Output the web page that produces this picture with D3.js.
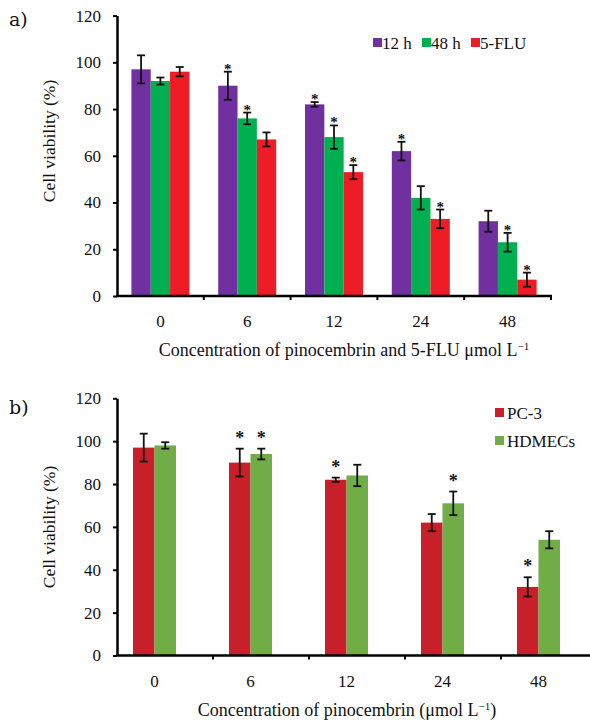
<!DOCTYPE html>
<html>
<head>
<meta charset="utf-8">
<script src="https://cdn.jsdelivr.net/npm/d3@7"></script>
<style>
  body { margin: 0; background: #fff; }
  svg text { font-family: "Liberation Serif", "Times New Roman", serif; fill: #111; }
</style>
</head>
<body>
<div id="chart"></div>
<script>
const width = 590;
const height = 723;

// panel a
const concA = ['0', '6', '12', '24', '48'];
const seriesA = ['12 h', '48 h', '5-FLU'];
const valA12 = [97, 90, 82, 62, 32];
const errA12 = [6, 6, 1, 4, 4.5];
const valA48 = [92, 76, 68, 42, 23];
const errA48 = [1.5, 2.5, 5, 5, 4];
const valAFlu = [96, 67, 53, 33, 7];
const errAFlu = [2, 3, 3, 4, 3];
const starA12 = [false, true, true, true, false];
const starA48 = [false, true, true, false, true];
const starAFlu = [false, false, true, true, true];

// panel b
const concB = ['0', '6', '12', '24', '48'];
const seriesB = ['PC-3', 'HDMECs'];
const valBPc3 = [97, 90, 82, 62, 32];
const errBPc3 = [6.5, 6.5, 1, 4, 4.5];
const valBHd = [98, 94, 84, 71, 54];
const errBHd = [1.5, 2.5, 5, 5.5, 4];
const starBPc3 = [false, true, true, false, true];
const starBHd = [false, true, false, true, false];

const yTicks = [0, 20, 40, 60, 80, 100, 120];

const svg = d3.select('#chart').append('svg')
    .attr('width', width)
    .attr('height', height);

function drawPanel(cfg) {
    const g = svg.append('g');

    const x = d3.scaleBand()
        .domain(cfg.cats)
        .range([cfg.left, cfg.right])
        .paddingInner(cfg.pad)
        .paddingOuter(cfg.pad / 2);

    const xSub = d3.scaleBand()
        .domain(cfg.series.map(s => s.name))
        .range([0, x.bandwidth()]);

    const y = d3.scaleLinear()
        .domain([0, 120])
        .range([cfg.bottom, cfg.top]);

    // bars
    cfg.series.forEach(s => {
        const rows = cfg.cats.map((c, i) => ({ c: c, v: s.values[i], e: s.errors[i], star: s.stars[i] }));
        const bx = d => x(d.c) + cfg.shift + xSub(s.name);
        const cx = d => bx(d) + xSub.bandwidth() / 2;

        g.selectAll(null).data(rows).enter().append('rect')
            .attr('x', bx)
            .attr('y', d => y(d.v))
            .attr('width', xSub.bandwidth())
            .attr('height', d => y(0) - y(d.v))
            .attr('fill', s.color);

        // error bars
        g.selectAll(null).data(rows).enter().append('line')
            .attr('x1', cx).attr('x2', cx)
            .attr('y1', d => y(d.v - d.e)).attr('y2', d => y(d.v + d.e))
            .attr('stroke', '#111').attr('stroke-width', 1.8);
        [1, -1].forEach(sign => {
            g.selectAll(null).data(rows).enter().append('line')
                .attr('x1', d => cx(d) - 4).attr('x2', d => cx(d) + 4)
                .attr('y1', d => y(d.v + sign * d.e)).attr('y2', d => y(d.v + sign * d.e))
                .attr('stroke', '#111').attr('stroke-width', 1.8);
        });

        g.selectAll(null).data(rows.filter(d => d.star)).enter().append('text')
            .attr('x', cx)
            .attr('y', d => y(d.v + d.e) + cfg.starDy)
            .attr('text-anchor', 'middle')
            .attr('font-size', cfg.starSize)
            .attr('font-weight', 'bold')
            .text('*');
    });

    // y axis
    const yAxis = d3.axisLeft(y).tickValues(yTicks).tickSize(4).tickPadding(12).tickSizeOuter(0);
    const ya = g.append('g').attr('transform', `translate(${cfg.left},0)`).call(yAxis);
    ya.select('.domain').attr('stroke', '#000').attr('stroke-width', 2.5);
    ya.selectAll('.tick line').attr('stroke', '#000').attr('stroke-width', 2);
    ya.selectAll('.tick text').attr('font-size', 17).attr('fill', '#111');

    // x axis with ticks on band boundaries
    const step = x.step();
    const bounds = d3.range(cfg.cats.length + 1).map(i => cfg.left + i * step);
    g.append('line')
        .attr('x1', cfg.left - 1).attr('x2', cfg.axisEnd)
        .attr('y1', y(0)).attr('y2', y(0))
        .attr('stroke', '#000').attr('stroke-width', 2.5);
    g.selectAll(null).data(bounds.slice(1)).enter().append('line')
        .attr('x1', d => d).attr('x2', d => d)
        .attr('y1', y(0)).attr('y2', y(0) + 4)
        .attr('stroke', '#000').attr('stroke-width', 2);

    g.selectAll(null).data(cfg.cats).enter().append('text')
        .attr('x', d => x(d) + cfg.shift + x.bandwidth() / 2)
        .attr('y', y(0) + 31)
        .attr('text-anchor', 'middle')
        .attr('font-size', 17)
        .text(d => d);

    // axis titles
    g.append('text')
        .attr('transform', `translate(${cfg.yTitleX},${cfg.yTitleY}) rotate(-90)`)
        .attr('text-anchor', 'middle')
        .attr('font-size', 17.5)
        .text('Cell viability (%)');

    const xt = g.append('text')
        .attr('x', cfg.xTitleX)
        .attr('y', cfg.xTitleY)
        .attr('text-anchor', 'middle')
        .attr('font-size', 18);
    xt.append('tspan').text(cfg.xTitle);
    xt.append('tspan').attr('dy', -6).attr('font-size', 11).text('\u2212' + '1');
    if (cfg.xTitleEnd) xt.append('tspan').attr('dy', 6).text(cfg.xTitleEnd);

    // panel label
    g.append('text')
        .attr('x', 9).attr('y', cfg.labelY)
        .style('font-family', '"DejaVu Serif", serif')
        .style('font-size', '19px')
        .text(cfg.label);

    // legend
    cfg.series.forEach((s, i) => {
        const lx = cfg.legend.x + i * cfg.legend.dx;
        const ly = cfg.legend.y + i * cfg.legend.dy;
        g.append('rect')
            .attr('x', lx).attr('y', ly - 5)
            .attr('width', 9).attr('height', 9)
            .attr('fill', s.color);
        g.append('text')
            .attr('x', lx + cfg.legend.textDx).attr('y', ly + 5.5)
            .attr('font-size', 17)
            .text(s.name);
    });
}

drawPanel({
    label: 'a)', labelY: 26,
    cats: concA,
    series: [
        { name: seriesA[0], values: valA12, errors: errA12, stars: starA12, color: '#7030a0' },
        { name: seriesA[1], values: valA48, errors: errA48, stars: starA48, color: '#00b050' },
        { name: seriesA[2], values: valAFlu, errors: errAFlu, stars: starAFlu, color: '#ee1c24' }
    ],
    left: 117, right: 551, axisEnd: 552, pad: 0.332, shift: 0,
    top: 15.6, bottom: 296,
    starDy: 2, starSize: 15,
    yTitleX: 55, yTitleY: 141,
    xTitle: 'Concentration of pinocembrin and 5-FLU \u03bcmol L', xTitleX: 344, xTitleY: 356,
    legend: { x: 373, y: 43, dx: 49, dy: 0, textDx: 9 }
});

drawPanel({
    label: 'b)', labelY: 414,
    cats: concB,
    series: [
        { name: seriesB[0], values: valBPc3, errors: errBPc3, stars: starBPc3, color: '#c8202a' },
        { name: seriesB[1], values: valBHd, errors: errBHd, stars: starBHd, color: '#70ad47' }
    ],
    left: 117, right: 597, axisEnd: 597, pad: 0.552, shift: -10.5,
    top: 398.3, bottom: 655.5,
    starDy: -5, starSize: 18,
    yTitleX: 55, yTitleY: 527,
    xTitle: 'Concentration of pinocembrin (\u03bcmol L', xTitleEnd: ')', xTitleX: 347, xTitleY: 716,
    legend: { x: 495, y: 413, dx: 0, dy: 28, textDx: 12 }
});
</script>
</body>
</html>
